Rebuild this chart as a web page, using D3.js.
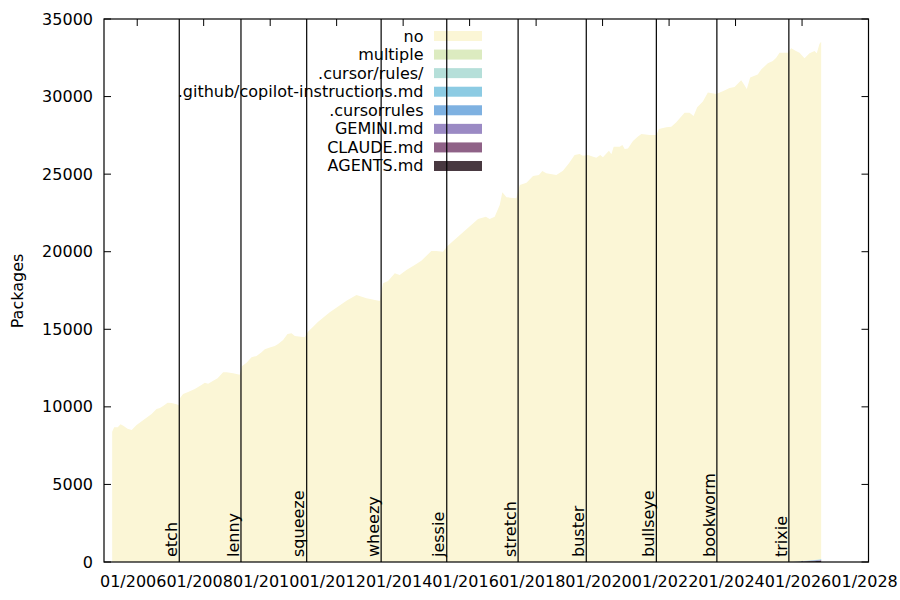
<!DOCTYPE html>
<html>
<head>
<meta charset="utf-8">
<script src="https://cdn.jsdelivr.net/npm/d3@7"></script>
<style>
  body { margin: 0; background: #fff; }
  text { font-family: "DejaVu Sans", sans-serif; font-size: 16px; fill: #000; }
</style>
</head>
<body>
<svg width="900" height="600"></svg>
<script>
// snapshot dates and packages without any agent file ("no")
const dates = [
  "2005-04-01","2005-04-23","2005-06-01","2005-07-01","2005-08-01","2005-09-17","2005-11-01","2005-12-25",
  "2006-03-25","2006-06-08","2006-08-01","2006-09-07","2006-10-13","2006-12-01","2007-01-14","2007-03-08",
  "2007-04-03","2007-04-15","2007-05-20","2007-07-14","2007-09-26","2007-12-08","2008-01-14","2008-02-19",
  "2008-04-15","2008-06-02","2008-08-02","2008-09-08","2008-11-20","2009-02-01","2009-02-27","2009-04-16",
  "2009-06-10","2009-08-04","2009-09-28","2009-11-03","2009-12-28","2010-02-21","2010-03-29","2010-05-23",
  "2010-07-10","2010-08-23","2010-09-29","2011-01-16","2011-02-22","2011-04-18","2011-06-12","2011-10-18",
  "2012-04-18","2012-08-06","2012-11-24","2013-04-19","2013-05-25","2013-07-19","2013-10-01","2013-11-24",
  "2014-02-06","2014-05-08","2014-07-20","2014-11-07","2015-01-01","2015-03-14","2015-05-09","2015-10-21",
  "2016-04-03","2016-06-27","2016-08-09","2016-10-03","2016-11-27","2016-12-26","2017-02-09","2017-05-29",
  "2017-07-05","2017-09-17","2017-11-28","2018-02-01","2018-03-10","2018-04-23","2018-08-11","2018-10-23",
  "2018-12-28","2019-02-28","2019-04-23","2019-05-30","2019-07-24","2019-10-24","2019-12-07","2020-01-05",
  "2020-03-11","2020-04-07","2020-05-02","2020-07-07","2020-08-06","2020-08-31","2020-10-06","2020-11-30",
  "2021-01-24","2021-03-03","2021-06-01","2021-08-14","2021-09-11","2021-12-01","2022-01-25","2022-03-21",
  "2022-06-20","2022-08-14","2022-09-27","2022-11-06","2023-01-07","2023-03-03","2023-06-03","2023-08-14",
  "2023-10-27","2023-12-21","2024-03-03","2024-03-29","2024-05-04","2024-06-10","2024-09-01","2024-10-09",
  "2024-12-21","2025-02-14","2025-03-23","2025-04-28","2025-07-28","2025-09-04","2025-10-21","2025-12-04",
  "2026-01-28","2026-03-24","2026-05-18","2026-06-12","2026-07-11","2026-07-30"
];
const noPkgs = [
  8400,8680,8680,8875,8780,8590,8510,8830,
  9220,9540,9860,9930,10060,10270,10250,10165,
  10100,10550,10830,10960,11150,11410,11560,11490,
  11690,11840,12230,12230,12160,12070,12630,12850,
  13190,13280,13520,13710,13820,13920,14050,14310,
  14700,14740,14570,14480,14850,15170,15490,16100,
  16840,17210,17000,16820,17960,18110,18610,18500,
  18820,19140,19420,20050,20050,20000,20400,21250,
  22110,22260,22110,22260,23010,23830,23510,23450,
  24300,24450,24880,24950,25200,25060,24950,25220,
  25700,26240,26300,26190,26240,26060,26240,26090,
  26510,26280,26770,26770,26880,26620,26660,27140,
  27420,27590,27520,27520,27910,28020,28060,28340,
  28960,28960,28750,29310,29680,30260,30170,30340,
  30550,30620,31050,30820,30490,31230,31430,31750,
  32140,32290,32500,32830,32830,33105,32935,32780,
  32390,32680,32800,32630,33205,33340
];

// agent instruction files only show up in the last snapshots
const agentDates = ["2025-09-04","2025-10-21","2025-12-04","2026-01-28","2026-03-24","2026-05-18","2026-06-12","2026-07-11","2026-07-30"];
const multiple    = [0,0,1,2,4,6,8,11,11];
const cursorDir   = [0,1,2,3,5,7,8,10,11];
const copilot     = [1,4,7,10,15,20,23,27,30];
const cursorrules = [1,3,6,9,12,15,17,19,20];
const gemini      = [0,2,4,6,9,12,14,16,18];
const claude      = [1,5,10,15,20,25,28,32,35];
const agents      = [2,10,20,35,45,55,62,70,75];

const seriesNames = ["no","multiple",".cursor/rules/",".github/copilot-instructions.md",".cursorrules","GEMINI.md","CLAUDE.md","AGENTS.md"];
const seriesColors = ["#fbf6d6","#dcebc0","#b5dfd9","#8ccbe3","#7eb1e1","#9b8ac4","#8f6287","#483840"];

const releases = ["etch","lenny","squeeze","wheezy","jessie","stretch","buster","bullseye","bookworm","trixie"];
const releaseDates = ["2007-04-08","2009-02-14","2011-02-06","2013-05-04","2015-04-25","2017-06-17","2019-07-06","2021-08-14","2023-06-10","2025-08-09"];

const yTicks = [0,5000,10000,15000,20000,25000,30000,35000];
const xStart = "2005-01-01", xEnd = "2028-01-01";

const parse = d3.timeParse("%Y-%m-%d");
const plotLeft = 104, plotRight = 868.5, plotTop = 19, plotBottom = 562;

const svg = d3.select("svg");

const x = d3.scaleTime()
  .domain([parse(xStart), parse(xEnd)])
  .range([plotLeft, plotRight]);
const y = d3.scaleLinear()
  .domain([0, 35000])
  .range([plotBottom, plotTop]);

// build rows for stacking
const extra = {
  "multiple": multiple, ".cursor/rules/": cursorDir, ".github/copilot-instructions.md": copilot,
  ".cursorrules": cursorrules, "GEMINI.md": gemini, "CLAUDE.md": claude, "AGENTS.md": agents
};
const rows = dates.map((d, i) => {
  const row = {date: parse(d), "no": noPkgs[i]};
  const k = agentDates.indexOf(d);
  Object.keys(extra).forEach(name => { row[name] = k >= 0 ? extra[name][k] : 0; });
  return row;
});

// bottom of stack is AGENTS.md, top is "no"
const stackKeys = seriesNames.slice().reverse();
const stacked = d3.stack().keys(stackKeys)(rows);
const color = d3.scaleOrdinal().domain(seriesNames).range(seriesColors);

// ticks (drawn first, the fill hides them where it overlaps)
const tickLen = 7;
const ticksG = svg.append("g").attr("stroke", "#000").attr("stroke-width", 1);
yTicks.forEach(v => {
  ticksG.append("line").attr("x1", plotLeft).attr("x2", plotLeft + tickLen).attr("y1", y(v)).attr("y2", y(v));
  ticksG.append("line").attr("x1", plotRight).attr("x2", plotRight - tickLen).attr("y1", y(v)).attr("y2", y(v));
});
const xTicks = x.ticks(d3.timeYear.every(2));
xTicks.forEach(t => {
  ticksG.append("line").attr("x1", x(t)).attr("x2", x(t)).attr("y1", plotTop).attr("y2", plotTop + tickLen);
  ticksG.append("line").attr("x1", x(t)).attr("x2", x(t)).attr("y1", plotBottom).attr("y2", plotBottom - tickLen);
});

// tick labels
svg.append("g").selectAll("text").data(yTicks).join("text")
  .attr("x", plotLeft - 11)
  .attr("y", d => y(d) + 5.5)
  .attr("text-anchor", "end")
  .text(d => d);

const fmt = d3.timeFormat("%m/%Y");
svg.append("g").selectAll("text").data(xTicks).join("text")
  .attr("x", d => x(d) - 4)
  .attr("y", 587)
  .attr("text-anchor", "middle")
  .text(d => fmt(d));

// Y label
svg.append("text")
  .attr("transform", "translate(23, 291) rotate(-90)")
  .attr("text-anchor", "middle")
  .text("Packages");

// stacked areas
const area = d3.area()
  .x(d => x(d.data.date))
  .y0(d => y(d[0]))
  .y1(d => y(d[1]));

svg.append("g").selectAll("path").data(stacked).join("path")
  .attr("d", area)
  .attr("fill", d => color(d.key))
  .attr("stroke", "none");

// key
const keyG = svg.append("g");
seriesNames.forEach((name, i) => {
  const cy = 36 + i * 18.57;
  keyG.append("text")
    .attr("x", 423.5)
    .attr("y", cy + 5.5)
    .attr("text-anchor", "end")
    .text(name);
  keyG.append("rect")
    .attr("x", 434).attr("y", cy - 5)
    .attr("width", 48).attr("height", 10)
    .attr("fill", color(name));
});

// release lines and names
const relG = svg.append("g");
releases.forEach((r, i) => {
  const rx = x(parse(releaseDates[i]));
  relG.append("line")
    .attr("x1", rx).attr("x2", rx)
    .attr("y1", plotTop).attr("y2", plotBottom)
    .attr("stroke", "#000").attr("stroke-width", 1.2);
  relG.append("text")
    .attr("transform", `translate(${rx - 2.3}, 557) rotate(-90)`)
    .attr("text-anchor", "start")
    .text(r);
});

// border
svg.append("rect")
  .attr("x", plotLeft).attr("y", plotTop)
  .attr("width", plotRight - plotLeft).attr("height", plotBottom - plotTop)
  .attr("fill", "none").attr("stroke", "#000").attr("stroke-width", 1.2);
</script>
</body>
</html>
